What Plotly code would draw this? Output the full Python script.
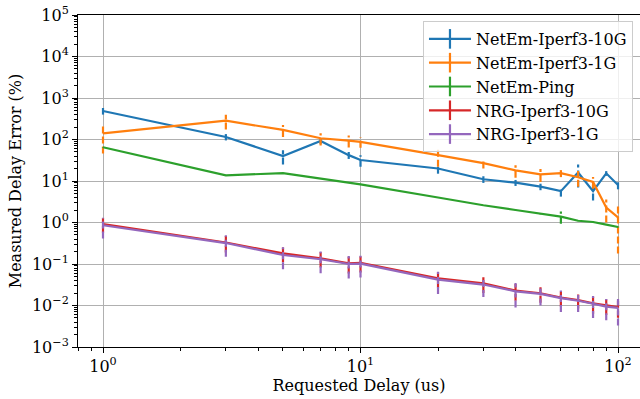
import plotly.graph_objects as go

# ---- data ----
delays = [1, 3, 5, 7, 9, 10, 20, 30, 40, 50, 60, 70, 80, 90, 100]

netem_10g = [486, 115, 40, 92, 42, 32, 20, 11, 9.1, 7.3, 5.7, 16, 5.7, 15.3, 8.0]
netem_10g_err = [88, 20, 15, 15, 8, 10, 5, 2, 1.5, 1.3, 1.5, 9, 2.3, 2, 1.7]

netem_1g = [141, 284, 170, 107, 94, 88, 42, 27, 18, 14.5, 15.4, 12.3, 9.5, 2.3, 1.33]
netem_1g_err = [95, 110, 55, 35, 30, 25, 20, 7, 6, 5, 3, 5, 3, 1.3, 1.15]

netem_ping = [65, 13.7, 15.5, 11.6, 9.3, 8.3, 4.0, 2.6, 2.0, 1.6, 1.38, 1.1, 1.03, 0.89, 0.78]
netem_ping_err = [1.0, 0.2, 0.2, 0.15, 0.12, 0.1, 0.06, 0.04, 0.03, 0.03, 0.45, 0.02, 0.02, 0.02, 0.02]

nrg_10g = [0.92, 0.33, 0.18, 0.137, 0.104, 0.107, 0.045, 0.034, 0.023, 0.0197, 0.0155, 0.0135, 0.0113, 0.0099, 0.0091]
nrg_10g_err = [0.35, 0.14, 0.07, 0.055, 0.045, 0.045, 0.018, 0.014, 0.01, 0.008, 0.006, 0.005, 0.005, 0.004, 0.004]

nrg_1g = [0.86, 0.32, 0.165, 0.13, 0.1, 0.102, 0.042, 0.032, 0.022, 0.019, 0.015, 0.013, 0.011, 0.0094, 0.0088]
nrg_1g_err = [0.45, 0.17, 0.09, 0.07, 0.055, 0.055, 0.023, 0.016, 0.013, 0.009, 0.008, 0.006, 0.006, 0.005, 0.0055]

series = [
    ("NetEm-Iperf3-10G", netem_10g, netem_10g_err, "#1f77b4"),
    ("NetEm-Iperf3-1G", netem_1g, netem_1g_err, "#ff7f0e"),
    ("NetEm-Ping", netem_ping, netem_ping_err, "#2ca02c"),
    ("NRG-Iperf3-10G", nrg_10g, nrg_10g_err, "#d62728"),
    ("NRG-Iperf3-1G", nrg_1g, nrg_1g_err, "#9467bd"),
]

y_tick_vals = [1e-3, 1e-2, 1e-1, 1, 10, 100, 1e3, 1e4, 1e5]
y_tick_text = ["10<sup>\u22123</sup>", "10<sup>\u22122</sup>", "10<sup>\u22121</sup>",
               "10<sup>0</sup>", "10<sup>1</sup>", "10<sup>2</sup>",
               "10<sup>3</sup>", "10<sup>4</sup>", "10<sup>5</sup>"]
x_tick_vals = [1, 10, 100]
x_tick_text = ["10<sup>0</sup>", "10<sup>1</sup>", "10<sup>2</sup>"]

FONT = "DejaVu Serif"
FS = 16

fig = go.Figure()

for name, vals, errs, color in series:
    ex, ey = [], []
    for x, v, e in zip(delays, vals, errs):
        ex += [x, x, None]
        ey += [max(v - e, v * 0.05), v + e, None]
    fig.add_trace(go.Scatter(x=ex, y=ey, mode="lines", showlegend=False,
                             line=dict(color=color, width=2.2, dash="7px,3px"),
                             hoverinfo="skip"))
    fig.add_trace(go.Scatter(x=delays, y=vals, mode="lines", name=name, showlegend=False,
                             line=dict(color=color, width=2.2)))

for name, vals, errs, color in series:
    fig.add_trace(go.Scatter(x=[None], y=[None], mode="lines+markers", name=name,
                             line=dict(color=color, width=2.2),
                             marker=dict(symbol="line-ns", size=14,
                                         line=dict(color=color, width=2.2))))

minor_vals = [m * 10 ** k for k in range(-4, 6) for m in range(2, 10)]

fig.update_layout(
    width=640, height=399,
    margin=dict(l=78, r=0, t=15, b=52),
    paper_bgcolor="white", plot_bgcolor="white",
    font=dict(family=FONT, size=FS, color="black"),
    legend=dict(x=0.9875, y=0.982, xanchor="right", yanchor="top",
                bgcolor="rgba(255,255,255,0.8)", bordercolor="#cccccc", borderwidth=1,
                font=dict(family=FONT, size=FS), itemwidth=42,
                tracegroupgap=0),
)

fig.update_xaxes(
    type="log", range=[-0.0971, 2.0854], automargin=False,
    tickmode="array", tickvals=x_tick_vals, ticktext=x_tick_text,
    ticks="outside", ticklen=5, tickwidth=1, tickcolor="black",
    showline=True, linecolor="black", linewidth=1, mirror=True,
    showgrid=True, gridcolor="#b0b0b0", gridwidth=1,
    zeroline=False, ticklabeloverflow="allow",
    minor=dict(tickmode="array", tickvals=minor_vals, ticks="outside", ticklen=3,
               tickcolor="black", tickwidth=0.8, showgrid=False),
    title=dict(text="Requested Delay (us)", font=dict(family=FONT, size=FS), standoff=2),
    tickfont=dict(family=FONT, size=FS),
)
fig.update_yaxes(
    type="log", range=[-3, 5], automargin=False,
    tickmode="array", tickvals=y_tick_vals, ticktext=y_tick_text,
    ticks="outside", ticklen=5, tickwidth=1, tickcolor="black",
    showline=True, linecolor="black", linewidth=1, mirror=False,
    showgrid=True, gridcolor="#b0b0b0", gridwidth=1,
    zeroline=False, ticklabeloverflow="allow",
    minor=dict(tickmode="array", tickvals=minor_vals, ticks="outside", ticklen=3,
               tickcolor="black", tickwidth=0.8, showgrid=False),
    title=dict(text="Measured Delay Error (%)", font=dict(family=FONT, size=FS), standoff=6),
    tickfont=dict(family=FONT, size=FS),
)

# remove the browser's default 8px page margin so the figure fills the window
fig.write_html("out.html", config={"displayModeBar": False},
               post_script="document.body.style.margin='0';")
